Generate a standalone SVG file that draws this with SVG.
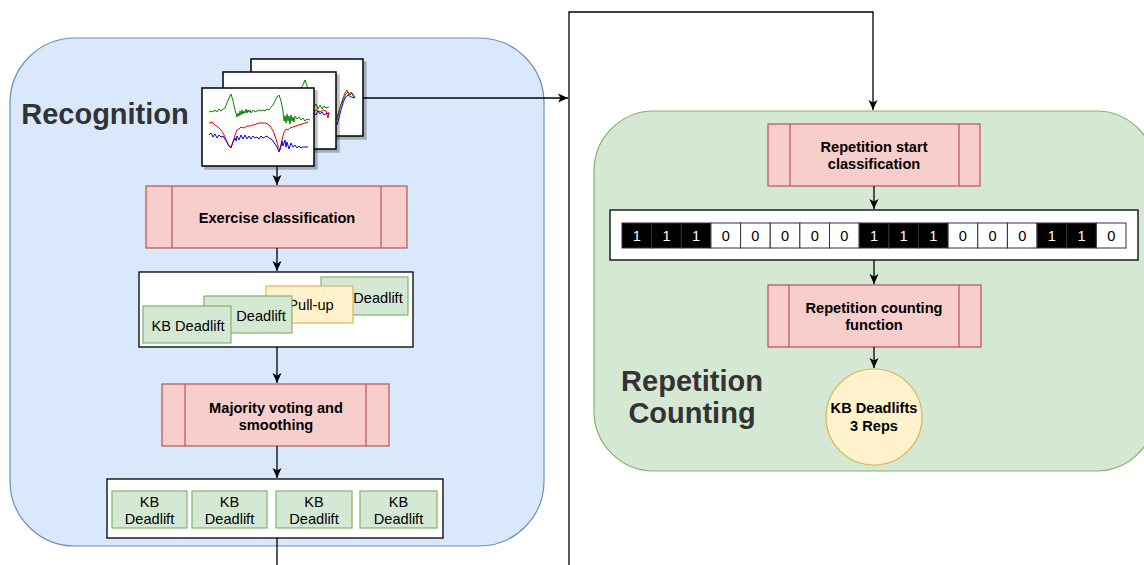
<svg xmlns="http://www.w3.org/2000/svg" width="1144" height="565" viewBox="0 0 1144 565">
  <defs>
    <marker id="arrow" markerUnits="userSpaceOnUse" markerWidth="12" markerHeight="10" viewBox="0 0 12 10" refX="10" refY="5" orient="auto">
      <path d="M0,0.5 L10,5 L0,9.5 L2.5,5 Z" fill="#000"/>
    </marker>
    <filter id="shadow" x="-10%" y="-10%" width="130%" height="130%">
      <feOffset dx="3" dy="3" in="SourceAlpha" result="o"/>
      <feColorMatrix in="o" type="matrix" values="0 0 0 0 0  0 0 0 0 0  0 0 0 0 0  0 0 0 0.25 0" result="s"/>
      <feMerge><feMergeNode in="s"/><feMergeNode in="SourceGraphic"/></feMerge>
    </filter>
  </defs>
  <style>
    .container-blue { fill: #dae8fc; stroke: #6c8ebf; stroke-width: 1.2; }
    .container-green { fill: #d5e8d4; stroke: #82b366; stroke-width: 1.2; }
    .process { fill: #f8cecc; stroke: #b85450; stroke-width: 1.2; }
    .card { fill: #d5e8d4; stroke: #82b366; stroke-width: 1.2; }
    .card-yellow { fill: #fff2cc; stroke: #d6b656; stroke-width: 1.2; }
    .frame { fill: #fff; stroke: #000; stroke-width: 1.3; }
    .plot { fill: #fff; stroke: #000; stroke-width: 1.5; }
    .title { font-family: "Liberation Sans", Arial, sans-serif; font-weight: bold; font-size: 29px; fill: #333; text-anchor: middle; }
    .label { font-family: "Liberation Sans", Arial, sans-serif; font-weight: bold; font-size: 14.6px; fill: #000; text-anchor: middle; }
    .text { font-family: "Liberation Sans", Arial, sans-serif; font-size: 14.6px; fill: #000; text-anchor: middle; }
    .bit { font-family: "Liberation Sans", Arial, sans-serif; font-size: 14.6px; text-anchor: middle; }
    .cell0 { fill: #fff; stroke: #333; stroke-width: 1; }
    .cell1 { fill: #000; stroke: #333; stroke-width: 1; }
    .edge { fill: none; stroke: #000; stroke-width: 1.3; }
    .sig { fill: none; stroke-width: 1; stroke-linejoin: round; }
  </style>

  <!-- Recognition stage -->
  <g id="recognition">
    <rect class="container-blue" x="10" y="38" width="534" height="508" rx="65" ry="65"/>
    <text class="title" x="105" y="124">Recognition</text>
  </g>

  <!-- Repetition counting stage -->
  <g id="repetition-counting">
    <rect class="container-green" x="594" y="111" width="562" height="360" rx="60" ry="60"/>
    <text class="title" x="692" y="391">Repetition</text>
    <text class="title" x="692" y="423">Counting</text>
  </g>

  <!-- Stack of sensor signal windows -->
  <g id="sensor-windows">
    <g filter="url(#shadow)">
      <rect class="plot" x="251" y="59" width="112" height="77"/>
    </g>
    <path class="sig" stroke="#e00" d="M337,120 L339,112 L341,104 L343,98 L345,93 L347,90 L349,95 L351,92 L353,96 L355,97"/>
    <path class="sig" stroke="#080" d="M337,117 L340,108 L343,100 L346,94 L348,92 L350,95 L352,93 L355,97"/>
    <path class="sig" stroke="#00e" d="M337,125 L339,118 L341,110 L343,103 L345,98 L348,95 L351,97 L355,98"/>
    <g filter="url(#shadow)">
      <rect class="plot" x="223" y="72" width="113" height="77"/>
    </g>
    <path class="sig" stroke="#080" d="M298,90 L301,88 L303,85 L305,80 L307,86 L309,91 M314,107 L316,104 L318,109 L320,105 L322,109 L324,106 L326,108 L329,107"/>
    <path class="sig" stroke="#e00" d="M314,111 L317,110 L320,112 L323,110 L326,111 L328,118 L329,112"/>
    <path class="sig" stroke="#00e" d="M314,113 L316,115 L318,111 L320,114 L322,112 L324,115 L327,113 L329,114"/>
    <g filter="url(#shadow)">
      <rect class="plot" x="202" y="88" width="112" height="78"/>
    </g>
    <path class="sig" stroke="#080" d="M209,112 L211,111 L213,112 L215,110 L217,112 L219,109 L221,111 L223,109 L225,108 L227,103 L229,98 L231,94 L233,101 L235,110 L237,117 L238,113 L239,116 L240,111 L241,115 L242,110 L243,114 L244,111 L245,113 L246,109 L247,113 L248,110 L249,112 L250,110 L251,113 L253,110 L255,112 L257,111 L259,110 L261,111 L263,110 L265,111 L267,109 L269,110 L271,107 L273,105 L275,101 L277,97 L279,95 L281,101 L283,111 L284,121 L285,116 L286,123 L287,114 L288,121 L289,116 L290,124 L291,115 L292,121 L293,117 L294,122 L295,116 L297,119 L299,117 L301,120 L303,118 L305,121 L307,119 L310,120"/>
    <path class="sig" stroke="#e00" d="M209,123 L212,122 L215,125 L218,127 L221,130 L223,133 L225,137 L227,142 L229,146 L231,147 L233,142 L235,135 L237,130 L239,129 L241,127 L244,128 L247,126 L250,126 L253,125 L256,124 L259,123 L262,123 L265,123 L268,124 L270,126 L272,129 L274,133 L276,139 L278,146 L280,150 L282,140 L284,132 L286,129 L288,130 L290,128 L293,127 L296,126 L299,125 L302,124 L305,123 L308,122"/>
    <path class="sig" stroke="#00e" d="M209,135 L211,133 L213,137 L215,134 L217,138 L219,135 L221,137 L223,136 L225,139 L227,142 L229,146 L231,148 L233,142 L235,138 L236,141 L237,136 L239,140 L241,135 L243,139 L245,135 L247,139 L249,136 L251,139 L253,136 L255,138 L257,137 L259,139 L261,136 L263,138 L265,137 L267,136 L269,138 L271,139 L273,141 L275,144 L277,147 L279,152 L281,146 L282,141 L283,146 L285,140 L286,147 L287,142 L289,149 L291,143 L293,147 L295,145 L297,148 L299,146 L301,148 L303,147 L305,147 L308,147"/>
  </g>

  <g id="exercise-classification">
    <rect class="process" x="146" y="186" width="261" height="62"/>
    <line x1="172" y1="186" x2="172" y2="248" stroke="#b85450" stroke-width="1.2"/>
    <line x1="381" y1="186" x2="381" y2="248" stroke="#b85450" stroke-width="1.2"/>
    <text class="label" x="277" y="223">Exercise classification</text>
  </g>

  <g id="window-predictions">
    <rect class="frame" x="139" y="272" width="274" height="75"/>
    <rect class="card" x="321" y="277" width="87" height="38"/>
    <text class="text" x="378" y="303">Deadlift</text>
    <rect class="card-yellow" x="266" y="286" width="87" height="37"/>
    <text class="text" x="311" y="310">Pull-up</text>
    <rect class="card" x="204" y="296" width="88" height="37"/>
    <text class="text" x="261" y="321">Deadlift</text>
    <rect class="card" x="143" y="306" width="88" height="37"/>
    <text class="text" x="188" y="331">KB Deadlift</text>
  </g>

  <g id="majority-voting">
    <rect class="process" x="162" y="384" width="227" height="62"/>
    <line x1="185" y1="384" x2="185" y2="446" stroke="#b85450" stroke-width="1.2"/>
    <line x1="366" y1="384" x2="366" y2="446" stroke="#b85450" stroke-width="1.2"/>
    <text class="label" x="276" y="413">Majority voting and</text>
    <text class="label" x="276" y="430">smoothing</text>
  </g>

  <g id="smoothed-predictions">
    <rect class="frame" x="107" y="479" width="336" height="59"/>
    <rect class="card" x="112" y="491" width="75" height="37"/>
    <text class="text" x="149.5" y="507">KB</text>
    <text class="text" x="149.5" y="524">Deadlift</text>
    <rect class="card" x="192" y="491" width="75" height="37"/>
    <text class="text" x="229.5" y="507">KB</text>
    <text class="text" x="229.5" y="524">Deadlift</text>
    <rect class="card" x="276" y="491" width="76" height="37"/>
    <text class="text" x="314" y="507">KB</text>
    <text class="text" x="314" y="524">Deadlift</text>
    <rect class="card" x="360" y="491" width="77" height="37"/>
    <text class="text" x="398.5" y="507">KB</text>
    <text class="text" x="398.5" y="524">Deadlift</text>
  </g>

  <g id="repetition-start">
    <rect class="process" x="768" y="124" width="212" height="62"/>
    <line x1="790" y1="124" x2="790" y2="186" stroke="#b85450" stroke-width="1.2"/>
    <line x1="959" y1="124" x2="959" y2="186" stroke="#b85450" stroke-width="1.2"/>
    <text class="label" x="874" y="152">Repetition start</text>
    <text class="label" x="874" y="169">classification</text>
  </g>

  <g id="start-sequence">
    <rect class="frame" x="610" y="210" width="528" height="50"/>
    <rect class="cell1" x="622.00" y="223" width="29.65" height="25"/>
    <rect class="cell1" x="651.65" y="223" width="29.65" height="25"/>
    <rect class="cell1" x="681.29" y="223" width="29.65" height="25"/>
    <rect class="cell0" x="710.94" y="223" width="29.65" height="25"/>
    <rect class="cell0" x="740.59" y="223" width="29.65" height="25"/>
    <rect class="cell0" x="770.24" y="223" width="29.65" height="25"/>
    <rect class="cell0" x="799.88" y="223" width="29.65" height="25"/>
    <rect class="cell0" x="829.53" y="223" width="29.65" height="25"/>
    <rect class="cell1" x="859.18" y="223" width="29.65" height="25"/>
    <rect class="cell1" x="888.82" y="223" width="29.65" height="25"/>
    <rect class="cell1" x="918.47" y="223" width="29.65" height="25"/>
    <rect class="cell0" x="948.12" y="223" width="29.65" height="25"/>
    <rect class="cell0" x="977.76" y="223" width="29.65" height="25"/>
    <rect class="cell0" x="1007.41" y="223" width="29.65" height="25"/>
    <rect class="cell1" x="1037.06" y="223" width="29.65" height="25"/>
    <rect class="cell1" x="1066.71" y="223" width="29.65" height="25"/>
    <rect class="cell0" x="1096.35" y="223" width="29.65" height="25"/>
    <g class="bit" fill="#fff">
      <text x="636.8" y="241">1</text>
      <text x="666.5" y="241">1</text>
      <text x="696.1" y="241">1</text>
      <text x="874.0" y="241">1</text>
      <text x="903.6" y="241">1</text>
      <text x="933.3" y="241">1</text>
      <text x="1051.9" y="241">1</text>
      <text x="1081.5" y="241">1</text>
    </g>
    <g class="bit" fill="#000">
      <text x="725.8" y="241">0</text>
      <text x="755.4" y="241">0</text>
      <text x="785.1" y="241">0</text>
      <text x="814.7" y="241">0</text>
      <text x="844.4" y="241">0</text>
      <text x="962.9" y="241">0</text>
      <text x="992.6" y="241">0</text>
      <text x="1022.2" y="241">0</text>
      <text x="1111.2" y="241">0</text>
    </g>
  </g>

  <g id="repetition-counting-function">
    <rect class="process" x="768" y="285" width="213" height="62"/>
    <line x1="789" y1="285" x2="789" y2="347" stroke="#b85450" stroke-width="1.2"/>
    <line x1="959" y1="285" x2="959" y2="347" stroke="#b85450" stroke-width="1.2"/>
    <text class="label" x="874" y="313">Repetition counting</text>
    <text class="label" x="874" y="330">function</text>
  </g>

  <g id="result">
    <circle cx="874" cy="417" r="48" fill="#fff2cc" stroke="#d6b656" stroke-width="1.2"/>
    <text class="label" x="874" y="413">KB Deadlifts</text>
    <text class="label" x="874" y="431">3 Reps</text>
  </g>

  <!-- Connectors -->
  <g id="connectors">
    <path class="edge" d="M277,166 L277,185" marker-end="url(#arrow)"/>
    <path class="edge" d="M277,248 L277,271" marker-end="url(#arrow)"/>
    <path class="edge" d="M277,347 L277,383" marker-end="url(#arrow)"/>
    <path class="edge" d="M277,446 L277,478" marker-end="url(#arrow)"/>
    <path class="edge" d="M277,538 L277,565"/>
    <path class="edge" d="M363,98 L568,98" marker-end="url(#arrow)"/>
    <path class="edge" d="M569,565 L569,12 L873,12 L873,110" marker-end="url(#arrow)"/>
    <path class="edge" d="M874,186 L874,209" marker-end="url(#arrow)"/>
    <path class="edge" d="M874,260 L874,284" marker-end="url(#arrow)"/>
    <path class="edge" d="M874,347 L874,368" marker-end="url(#arrow)"/>
  </g>
</svg>
